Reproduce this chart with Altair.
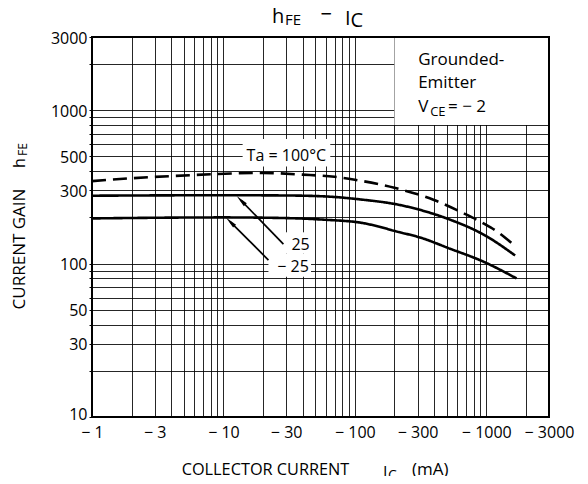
import json
import altair as alt
import pandas as pd

# ---------------- data ----------------
series_names = ["Ta = 100°C", "25", "−25"]
ic_ta100 = [1, 2, 4, 8, 13, 20, 40, 70, 100, 200, 400, 670, 950, 1270, 1560]
hfe_ta100 = [345, 360, 372, 382, 388, 390, 380, 368, 352, 312, 260, 213, 183, 157, 136]
ic_ta25 = [1, 10, 30, 60, 110, 220, 313, 500, 1000, 1656]
hfe_ta25 = [277, 279, 278, 274, 262, 241, 224, 197, 151, 113]
ic_tam25 = [1, 10, 30, 60, 110, 220, 313, 530, 950, 1700]
hfe_tam25 = [197, 200, 198, 193, 185, 160, 148, 125, 103, 80]

x_grid = [1, 2, 3, 4, 5, 6, 7, 8, 9,
          10, 20, 30, 40, 50, 60, 70, 80, 90,
          100, 200, 300, 400, 500, 600, 700, 800, 900,
          1000, 2000, 3000]
x_labels = [1, 3, 10, 30, 100, 300, 1000, 3000]
y_grid = [10, 20, 30, 40, 50, 60, 70, 80, 90,
          100, 200, 300, 400, 500, 600, 700, 800, 900,
          1000, 2000, 3000]
y_labels = [10, 30, 50, 100, 300, 500, 1000, 3000]

FONT = "Open Sans"
W, H = 457, 380

rows = []
for name, xs, ys in zip(series_names, [ic_ta100, ic_ta25, ic_tam25],
                        [hfe_ta100, hfe_ta25, hfe_tam25]):
    for xv, yv in zip(xs, ys):
        rows.append({"series": name, "ic": xv, "hfe": yv})
lines_df = pd.DataFrame(rows)

x_scale = alt.Scale(type="log", domain=[1, 3000], nice=False)
y_scale = alt.Scale(type="log", domain=[10, 3000], nice=False)

x_axis = alt.Axis(
    values=x_grid, title=None, grid=True, domain=False, tickSize=0,
    labelExpr="indexof(%s, datum.value) >= 0 ? '\u2212 ' + datum.value : ''" % json.dumps(x_labels),
    labelFont=FONT, labelFontSize=16, labelColor="black", labelPadding=7,
    labelOverlap=False, labelFlush=False,
    gridColor="black", gridOpacity=0.85, gridWidth=1, zindex=0,
)
y_axis = alt.Axis(
    values=y_grid, title=None, grid=True, domain=False, tickSize=3, tickColor="black",
    labelExpr="indexof(%s, datum.value) >= 0 ? '' + datum.value : ''" % json.dumps(y_labels),
    labelFont=FONT, labelFontSize=16, labelColor="black", labelPadding=2,
    labelOffset={"condition": {"test": "datum.value == 10", "value": -3}, "value": 1},
    labelOverlap=False, labelFlush=False,
    gridColor="black", gridOpacity=0.85, gridWidth=1, zindex=0,
)


def X(field):
    return alt.X(field, type="quantitative", scale=x_scale, axis=x_axis)


def Y(field):
    return alt.Y(field, type="quantitative", scale=y_scale, axis=y_axis)


# white boxes behind annotations (hide grid)
boxes_df = pd.DataFrame({
    "x1": [200, 14, 28.5, 22], "x2": [3000, 65, 47, 46.4],
    "y1": [800, 430, 116, 82], "y2": [3000, 650, 160, 116],
})
boxes = alt.Chart(boxes_df).mark_rect(color="white", opacity=1).encode(
    x=X("x1"), x2="x2", y=Y("y1"), y2="y2")

curves = alt.Chart(lines_df).mark_line(
    interpolate="monotone", strokeWidth=2.6, color="black"
).encode(
    x=X("ic"), y=Y("hfe"), detail="series:N",
    strokeDash=alt.StrokeDash("series:N", scale=alt.Scale(
        domain=series_names, range=[[14, 7], [1, 0], [1, 0]]), legend=None),
)

# arrows
arrows_df = pd.DataFrame({
    "x1": [28.6, 22.0], "y1": [134, 105.5],
    "x2": [13.6, 11.27], "y2": [258, 187.3],
})
shafts = alt.Chart(arrows_df).mark_rule(color="black", strokeWidth=1.7).encode(
    x=X("x1"), y=Y("y1"), x2="x2", y2="y2")
heads = alt.Chart(arrows_df).mark_point(
    shape="M0,-1L0.34,1L-0.34,1Z", filled=True, size=150, color="black",
    opacity=1, angle=315
).encode(x=X("x2"), y=Y("y2"))


def dtext(t, x, y, size, align="left"):
    df = pd.DataFrame({"t": [t], "x": [x], "y": [y]})
    return alt.Chart(df).mark_text(
        font=FONT, fontSize=size, align=align, baseline="alphabetic", color="black"
    ).encode(x=X("x"), y=Y("y"), text="t:N")


def ptext(t, x, y, size, align="left", angle=0):
    df = pd.DataFrame({"t": [t]})
    kw = dict(font=FONT, fontSize=size, align=align, baseline="alphabetic", color="black")
    if angle:
        kw["angle"] = angle
    return alt.Chart(df).mark_text(**kw).encode(
        x=alt.value(x), y=alt.value(y), text="t:N")


annotations = [
    dtext("Grounded-", 303, 1971, 17),
    dtext("Emitter", 303, 1395, 17),
    dtext("V", 303, 966, 17),
    dtext("CE", 374, 916, 13),
    dtext("= \u2212 2", 512, 966, 17),
    dtext("Ta = 100°C", 15, 463, 16),
    dtext("25", 38.6, 122.7, 16, "center"),
    dtext("\u2212 25", 33.9, 88, 16, "center"),
]

titles = [
    # chart title  h_FE - I_C
    ptext("h", 180, -14, 20),
    ptext("FE", 193, -12, 15),
    ptext("\u2212", 228.5, -16, 20),
    ptext("I", 253, -12, 20),
    ptext("C", 258.5, -10.3, 20),
    # x axis title
    ptext("COLLECTOR CURRENT", 89.7, 438, 16.3),
    ptext("I", 291, 441, 16),
    ptext("C", 296, 443, 14),
    ptext("(mA)", 320, 438, 17),
    # y axis title (rotated)
    ptext("CURRENT GAIN", -67, 212, 17, "center", 270),
    ptext("h", -67, 131, 16, "left", 270),
    ptext("FE", -65, 119, 12, "left", 270),
]

frame = alt.Chart(pd.DataFrame({"f": [0]})).mark_rect(
    filled=False, stroke="black", strokeWidth=2
).encode(x=alt.value(0), x2=alt.value(W), y=alt.value(0), y2=alt.value(H))

chart = alt.layer(
    boxes, curves, shafts, heads, *annotations, *titles, frame
).properties(
    width=W, height=H,
    autosize=alt.AutoSizeParams(type="none"),
    padding={"left": 84, "top": 29, "right": 31, "bottom": 59},
).configure_view(stroke="black", strokeWidth=2).configure(
    font=FONT, background="white")

chart.save("out.html", embed_options={"renderer": "svg", "actions": False})
